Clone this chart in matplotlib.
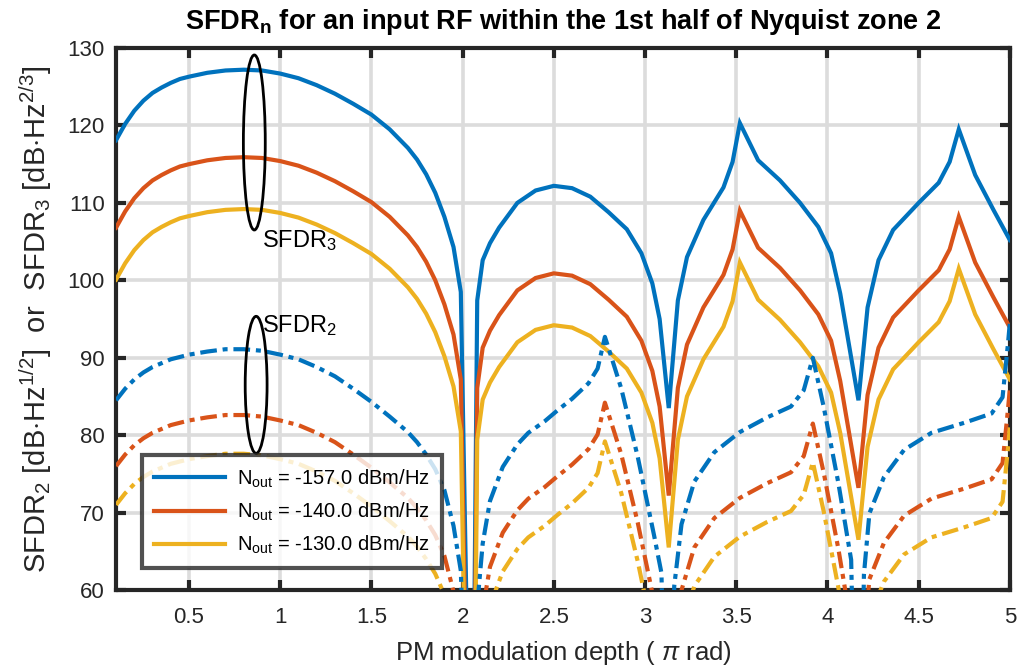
import numpy as np
import matplotlib
matplotlib.use("Agg")
import matplotlib.pyplot as plt
from matplotlib.patches import Ellipse

plt.rcParams['font.family'] = ['Liberation Sans', 'DejaVu Sans']
plt.rcParams['mathtext.fontset'] = 'custom'
plt.rcParams['mathtext.rm'] = 'Liberation Sans'
plt.rcParams['mathtext.it'] = 'Liberation Sans:italic'
plt.rcParams['mathtext.bf'] = 'Liberation Sans:bold'

# modulation depth grid (units of pi rad) for SFDR3
x3 = [0.10, 0.15, 0.20, 0.25, 0.30, 0.35, 0.40, 0.45, 0.50, 0.60, 0.70, 0.80, 0.90, 1.00,
      1.10, 1.20, 1.30, 1.40, 1.50, 1.60, 1.70, 1.75, 1.80, 1.85, 1.90, 1.95,
      1.99, 2.05, 2.08, 2.11, 2.15, 2.20, 2.30, 2.40, 2.50, 2.60, 2.70, 2.80,
      2.90, 2.98, 3.04, 3.08, 3.13, 3.18, 3.23, 3.32, 3.43, 3.48, 3.52, 3.62,
      3.74, 3.85, 3.95, 4.02, 4.07, 4.17, 4.22, 4.28, 4.36, 4.50, 4.61, 4.67,
      4.72, 4.81, 4.91, 5.00]

sfdr3_157 = [118.1, 120.2, 121.9, 123.2, 124.2, 124.9, 125.5, 126.0, 126.3, 126.8, 127.1, 127.2, 127.1, 126.7,
             126.1, 125.2, 124.1, 122.8, 121.4, 119.5, 117.1, 115.6, 113.7, 111.3, 108.2, 104.3,
             98.5, 20.0, 97.4, 102.6, 104.8, 106.8, 110.0, 111.6, 112.2, 111.9, 110.8, 108.8,
             106.6, 103.5, 99.6, 95.0, 83.5, 97.4, 103.0, 107.8, 112.0, 115.3, 120.3, 115.5,
             112.9, 110.0, 106.9, 103.5, 98.3, 84.5, 96.5, 102.6, 106.5, 110.0, 112.6, 115.3,
             119.5, 113.6, 109.1, 105.2]

sfdr3_140 = [106.8, 108.9, 110.6, 111.9, 112.9, 113.6, 114.2, 114.7, 115.0, 115.5, 115.8, 115.9, 115.8, 115.4,
             114.8, 113.9, 112.8, 111.5, 110.1, 108.2, 105.8, 104.3, 102.4, 100.0, 96.9, 93.0,
             87.2, 8.7, 86.1, 91.3, 93.5, 95.5, 98.7, 100.3, 100.9, 100.6, 99.5, 97.5,
             95.3, 92.2, 88.3, 83.7, 72.2, 86.1, 91.7, 96.5, 100.7, 104.0, 109.0, 104.2,
             101.6, 98.7, 95.6, 92.2, 87.0, 73.2, 85.2, 91.3, 95.2, 98.7, 101.3, 104.0,
             108.2, 102.3, 97.8, 93.9]

sfdr3_130 = [100.1, 102.2, 103.9, 105.2, 106.2, 106.9, 107.5, 108.0, 108.3, 108.8, 109.1, 109.2, 109.1, 108.7,
             108.1, 107.2, 106.1, 104.8, 103.4, 101.5, 99.1, 97.6, 95.7, 93.3, 90.2, 86.3,
             80.5, 2.0, 79.4, 84.6, 86.8, 88.8, 92.0, 93.6, 94.2, 93.9, 92.8, 90.8,
             88.6, 85.5, 81.6, 77.0, 65.5, 79.4, 85.0, 89.8, 94.0, 97.3, 102.3, 97.5,
             94.9, 92.0, 88.9, 85.5, 80.3, 66.5, 78.5, 84.6, 88.5, 92.0, 94.6, 97.3,
             101.5, 95.6, 91.1, 87.2]

# modulation depth grid for SFDR2
x2 = [0.10, 0.15, 0.20, 0.25, 0.30, 0.35, 0.40, 0.45, 0.50, 0.60, 0.70, 0.80, 0.90, 1.00,
      1.10, 1.20, 1.30, 1.40, 1.50, 1.60, 1.70, 1.75, 1.80, 1.85, 1.90, 1.95,
      1.99, 2.05, 2.08, 2.11, 2.15, 2.22, 2.30, 2.36, 2.45, 2.52, 2.60, 2.69,
      2.74, 2.78, 2.83, 2.87, 2.96, 3.05, 3.09, 3.13, 3.16, 3.20, 3.27, 3.38,
      3.52, 3.67, 3.80, 3.87, 3.92, 3.98, 4.06, 4.13, 4.17, 4.20, 4.23, 4.31,
      4.42, 4.57, 4.75, 4.90, 4.96, 4.99, 5.00]

sfdr2_157 = [84.5, 86.0, 87.2, 88.1, 88.8, 89.3, 89.8, 90.1, 90.4, 90.8, 91.1, 91.1, 90.9, 90.4,
             89.8, 88.8, 87.6, 86.0, 84.3, 82.4, 80.4, 79.1, 77.5, 75.6, 72.9, 68.3,
             62.5, 20.0, 58.0, 66.0, 71.5, 75.9, 78.8, 80.3, 81.8, 83.2, 84.7, 86.7,
             88.6, 92.7, 89.0, 86.0, 77.2, 67.0, 62.2, 20.0, 60.5, 68.5, 74.0, 77.8,
             80.4, 82.3, 83.7, 85.8, 90.0, 83.6, 73.8, 63.9, 20.0, 62.0, 69.9, 74.6,
             78.1, 80.3, 81.6, 82.8, 84.9, 91.9, 94.5]

sfdr2_140 = [76.0, 77.5, 78.7, 79.6, 80.3, 80.8, 81.3, 81.6, 81.9, 82.3, 82.6, 82.6, 82.4, 81.9,
             81.3, 80.3, 79.1, 77.5, 75.8, 73.9, 71.9, 70.6, 69.0, 67.1, 64.4, 59.8,
             54.0, 11.5, 49.5, 57.5, 63.0, 67.4, 70.3, 71.8, 73.3, 74.7, 76.2, 78.2,
             80.1, 84.2, 80.5, 77.5, 68.7, 58.5, 53.7, 11.5, 52.0, 60.0, 65.5, 69.3,
             71.9, 73.8, 75.2, 77.3, 81.5, 75.1, 65.3, 55.4, 11.5, 53.5, 61.4, 66.1,
             69.6, 71.8, 73.1, 74.3, 76.4, 83.4, 86.0]

sfdr2_130 = [71.0, 72.5, 73.7, 74.6, 75.3, 75.8, 76.3, 76.6, 76.9, 77.3, 77.6, 77.6, 77.4, 76.9,
             76.3, 75.3, 74.1, 72.5, 70.8, 68.9, 66.9, 65.6, 64.0, 62.1, 59.4, 54.8,
             49.0, 6.5, 44.5, 52.5, 58.0, 62.4, 65.3, 66.8, 68.3, 69.7, 71.2, 73.2,
             75.1, 79.2, 75.5, 72.5, 63.7, 53.5, 48.7, 6.5, 47.0, 55.0, 60.5, 64.3,
             66.9, 68.8, 70.2, 72.3, 76.5, 70.1, 60.3, 50.4, 6.5, 48.5, 56.4, 61.1,
             64.6, 66.8, 68.1, 69.3, 71.4, 78.4, 81.0]

noise_levels = [-157.0, -140.0, -130.0]
colors = ['#0072BD', '#D95319', '#EDB120']
sfdr3_all = [sfdr3_157, sfdr3_140, sfdr3_130]
sfdr2_all = [sfdr2_157, sfdr2_140, sfdr2_130]

fig = plt.figure(figsize=(10.18, 6.67), dpi=100)
ax = fig.add_axes([0.114, 0.1154, 0.878, 0.8126])

lw = 3.0
handles = []
for n, c, s3 in zip(noise_levels, colors, sfdr3_all):
    h, = ax.plot(x3, s3, color=c, lw=lw, solid_joinstyle='miter', zorder=3,
                 label=r'N$_{\mathrm{out}}$ = %.1f dBm/Hz' % n)
    handles.append(h)
for c, s2 in zip(colors, sfdr2_all):
    ax.plot(x2, s2, color=c, lw=lw, dashes=(4.0, 1.4, 1.2, 1.4), zorder=3)

ax.set_xlim(0.1, 5)
ax.set_ylim(60, 130)
ax.set_xticks(np.arange(0.5, 5.01, 0.5))
ax.set_xticklabels(['0.5', '1', '1.5', '2', '2.5', '3', '3.5', '4', '4.5', '5'])
ax.set_yticks(np.arange(60, 131, 10))

ax.grid(True, color='#dcdcdc', lw=2.6, zorder=0)
ax.set_axisbelow(True)
for sp in ax.spines.values():
    sp.set_linewidth(3)
    sp.set_color('#262626')
ax.tick_params(direction='in', length=7, width=3, top=True, right=True,
               labelsize=16, colors='#262626', pad=8)
ax.tick_params(axis='x', pad=12)

# ellipses grouping the curve families
ax.add_patch(Ellipse((0.858, 117.8), 0.12, 22.6, fill=False, ec='black', lw=2, zorder=4))
ax.add_patch(Ellipse((0.868, 86.5), 0.12, 17.7, fill=False, ec='black', lw=2, zorder=4))
ax.text(0.9, 105.1, r'SFDR$_3$', fontsize=17, va='center', ha='left', color='black', zorder=5)
ax.text(0.9, 94.2, r'SFDR$_2$', fontsize=17, va='center', ha='left', color='black', zorder=5)

ax.set_title(r'$\mathbf{SFDR_n}$ for an input RF within the 1st half of Nyquist zone 2',
             fontsize=19.5, fontweight='bold', pad=14)
ax.set_xlabel(r'PM modulation depth ( $\pi$ rad)', fontsize=18.5, color='#262626', labelpad=8)
ax.set_ylabel(r'SFDR$_2$ [dB$\cdot$Hz$^{1/2}$]  or  SFDR$_3$ [dB$\cdot$Hz$^{2/3}$]',
              fontsize=21, color='#262626', labelpad=10)

leg = ax.legend(handles=handles, loc='lower left', bbox_to_anchor=(0.029, 0.04),
                borderaxespad=0, fontsize=14.5, frameon=True, fancybox=False,
                handlelength=3.5, borderpad=0.6, labelspacing=0.55, handletextpad=0.6)
leg.get_frame().set_edgecolor('#262626')
leg.get_frame().set_linewidth(3)
leg.set_zorder(6)

fig.savefig('out.png', dpi=100)
